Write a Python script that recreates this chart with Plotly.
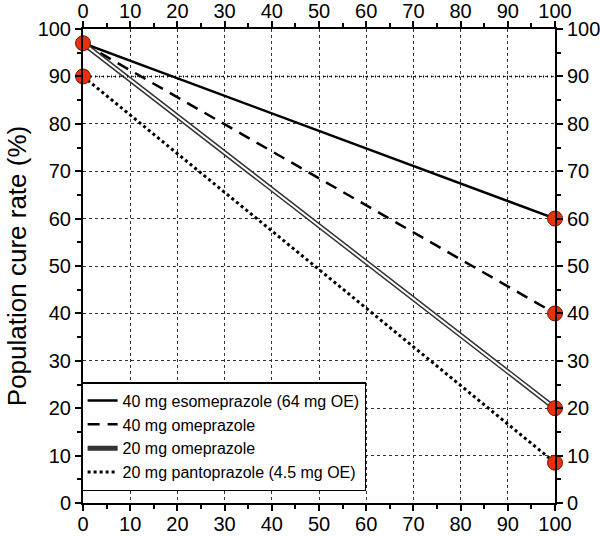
import plotly.graph_objects as go

# Data
x_pts = [0, 100]
esomeprazole_40 = [97, 60]
omeprazole_40 = [97, 40]
omeprazole_20 = [97, 20]
pantoprazole_20 = [90, 8.5]
names = ["40 mg esomeprazole (64 mg OE)", "40 mg omeprazole",
         "20 mg omeprazole", "20 mg pantoprazole (4.5 mg OE)"]
marker_x = [0, 0, 100, 100, 100, 100]
marker_y = [97, 90, 60, 40, 20, 8.5]
ticks = list(range(0, 101, 10))
ref_line_y = 90

fig = go.Figure()

fig.add_trace(go.Scatter(x=x_pts, y=esomeprazole_40, mode="lines", name=names[0],
                         line=dict(color="black", width=2.5)))
fig.add_trace(go.Scatter(x=x_pts, y=omeprazole_40, mode="lines", name=names[1],
                         line=dict(color="black", width=2.5, dash="12px,8px")))
fig.add_trace(go.Scatter(x=x_pts, y=omeprazole_20, mode="lines", name=names[2],
                         line=dict(color="#333", width=5)))
fig.add_trace(go.Scatter(x=x_pts, y=omeprazole_20, mode="lines", showlegend=False,
                         line=dict(color="white", width=2), hoverinfo="skip"))
fig.add_trace(go.Scatter(x=x_pts, y=pantoprazole_20, mode="lines", name=names[3],
                         line=dict(color="black", width=3, dash="3px,3px")))
# reference line at 90
fig.add_trace(go.Scatter(x=[0, 100], y=[ref_line_y, ref_line_y], mode="lines",
                         showlegend=False, hoverinfo="skip",
                         line=dict(color="black", width=2, dash="1px,3px")))
fig.add_trace(go.Scatter(x=marker_x, y=marker_y, mode="markers", showlegend=False,
                         cliponaxis=False,
                         marker=dict(size=15, color="#e8300c",
                                     line=dict(color="#6b1a0a", width=1))))
# dummy trace for secondary axes
fig.add_trace(go.Scatter(x=[0], y=[0], xaxis="x2", yaxis="y2", mode="markers",
                         marker=dict(opacity=0), showlegend=False, hoverinfo="skip"))

tickfont = dict(family="Liberation Sans, Arial", size=20, color="black")
common = dict(range=[0, 100], tickvals=ticks, ticks="outside", ticklen=6,
              tickwidth=1.5, tickcolor="black", showline=True, linecolor="black",
              linewidth=2, tickfont=tickfont, zeroline=False, automargin=False,
              minor=dict(dtick=5, ticks="outside", ticklen=4, tickcolor="black", tickwidth=1.5))

fig.update_layout(
    width=600, height=536,
    margin=dict(l=83, r=45, t=29, b=33),
    plot_bgcolor="white", paper_bgcolor="white",
    xaxis=dict(**common, showgrid=True, gridcolor="#333", griddash="dot", gridwidth=1,
               ticklabelstandoff=-4),
    yaxis=dict(**common, showgrid=True, gridcolor="#333", griddash="dot", gridwidth=1,
               title=dict(text="Population cure rate (%)",
                          font=dict(family="Liberation Sans, Arial", size=26, color="black"),
                          standoff=4)),
    xaxis2=dict(**common, overlaying="x", side="top", showgrid=False,
                ticklabelstandoff=-5),
    yaxis2=dict(**common, overlaying="y", side="right", showgrid=False),
    legend=dict(x=-0.004, y=0.255, xanchor="left", yanchor="top",
                bgcolor="white", bordercolor="black", borderwidth=1.5,
                font=dict(family="Liberation Sans, Arial", size=16, color="black"),
                itemwidth=30, tracegroupgap=0),
    showlegend=True,
)

fig.write_html("out.html", config={"displayModeBar": False},
               post_script="document.body.style.margin='0';")
